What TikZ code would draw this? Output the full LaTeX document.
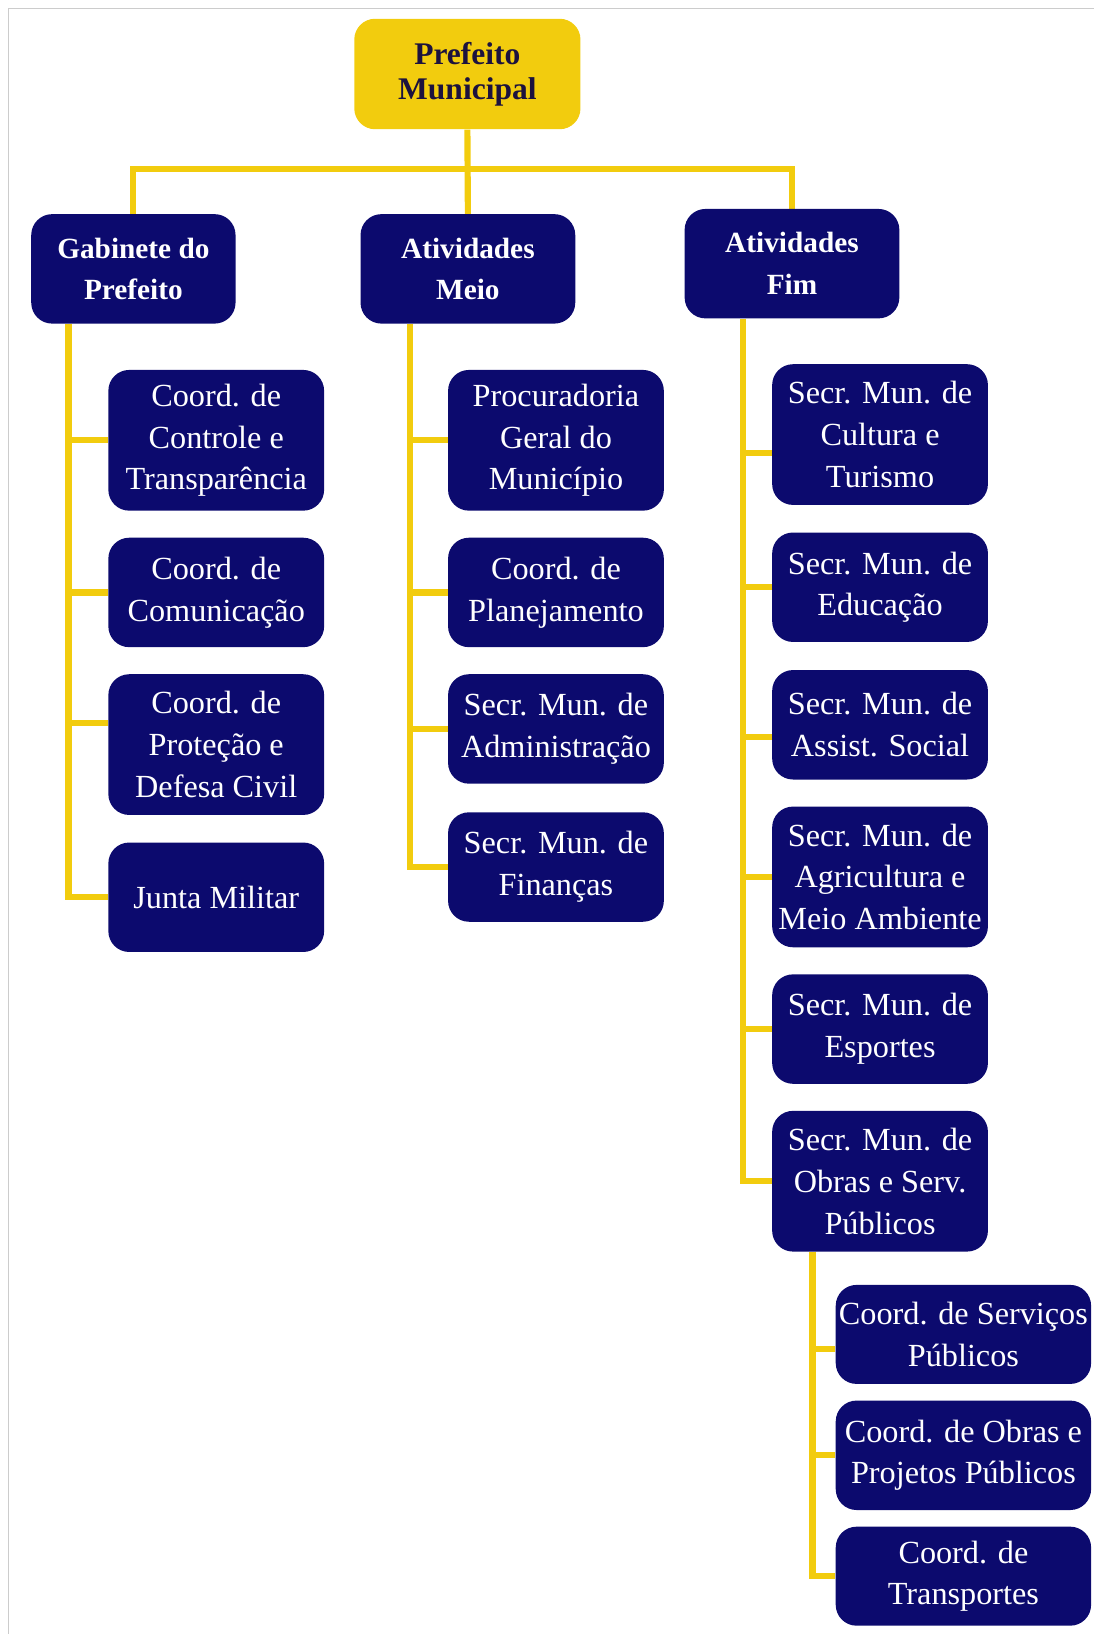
\documentclass[tikz,border=0pt]{standalone}
\usepackage{fontspec}
\setmainfont{Liberation Serif}
\usetikzlibrary{backgrounds}

\definecolor{navybox}{RGB}{12,10,110}
\definecolor{ouro}{RGB}{242,204,14}
\definecolor{inknavy}{RGB}{28,18,62}

\tikzset{
  unit/.style={rounded corners=0.5cm, fill=navybox, text=white, align=center,
    inner sep=0pt, minimum width=5.175cm, font=\fontsize{22}{28.5}\selectfont},
  tall/.style={minimum height=3.375cm},
  short/.style={minimum height=2.625cm},
  head/.style={unit, short, minimum width=5.15cm, font=\bfseries\fontsize{20}{28.5}\selectfont},
  boss/.style={head, fill=ouro, text=inknavy, minimum width=5.425cm, minimum height=2.65cm,
    font=\bfseries\fontsize{21.5}{24}\selectfont},
  subunit/.style={unit, minimum width=6.125cm, minimum height=2.375cm},
  link/.style={draw=ouro, line width=4.2pt},
}

\begin{document}
\begin{tikzpicture}[x=0.025cm, y=-0.025cm]
  \useasboundingbox (0,0) rectangle (1050,1568);
  \draw[gray!40, line width=0.8pt] (8,1568) -- (8,8) -- (1050,8);

  % topo
  \node[boss] (pm) at (448.5,71) {Prefeito\\Municipal};
  \node[head, minimum width=4.9cm] (gab) at (128,258) {Gabinete do\\Prefeito};
  \node[head] (am) at (449,258) {Atividades\\Meio};
  \node[head] (fim) at (760,253) {Atividades\\Fim};
  \coordinate (bus) at (449,162);

  % gabinete do prefeito
  \node[unit, tall] (ctl) at (207.5,422.5) {Coord. de\\Controle e\\Transparência};
  \node[unit, short] (com) at (207.5,568.5) {Coord. de\\Comunicação};
  \node[unit, tall] (pdc) at (207.5,714.5) {Coord. de\\Proteção e\\Defesa Civil};
  \node[unit, short] (jm) at (207.5,861) {Junta Militar};

  % atividades meio
  \node[unit, tall] (pgm) at (533.5,422.5) {Procuradoria\\Geral do\\Município};
  \node[unit, short] (plan) at (533.5,568.5) {Coord. de\\Planejamento};
  \node[unit, short] (adm) at (533.5,699.5) {Secr. Mun. de\\Administração};
  \node[unit, short] (fin) at (533.5,832) {Secr. Mun. de\\Finanças};

  % atividades fim
  \node[unit, tall] (cult) at (844.5,417) {Secr. Mun. de\\Cultura e\\Turismo};
  \node[unit, short] (edu) at (844.5,563.5) {Secr. Mun. de\\Educação};
  \node[unit, short] (ass) at (844.5,695.5) {Secr. Mun. de\\Assist. Social};
  \node[unit, tall] (agr) at (844.5,841.5) {Secr. Mun. de\\Agricultura e\\Meio Ambiente};
  \node[unit, short] (esp) at (844.5,987.5) {Secr. Mun. de\\Esportes};
  \node[unit, tall] (obr) at (844.5,1133.5) {Secr. Mun. de\\Obras e Serv.\\Públicos};

  % obras
  \node[subunit] (ser) at (924.5,1280.5) {Coord. de Serviços\\Públicos};
  \node[subunit, minimum height=2.625cm] (ovp) at (924.5,1396.5) {Coord. de Obras e\\Projetos Públicos};
  \node[subunit] (tra) at (924.5,1512.5) {Coord. de\\Transportes};

  \begin{scope}[on background layer]
    \draw[link] (pm.south) -- (am.north);
    \draw[link] (gab.north) |- (bus) -| (fim.north);

    \draw[link] ([xshift=0.9cm]gab.south west) coordinate (gt) |- (jm.west);
    \foreach \n in {ctl,com}
      \draw[link] (\n.west) -| (gt);
    \draw[link] ([yshift=0.51cm]pdc.west) -| (gt);

    \draw[link] ([xshift=1.2cm]am.south west) coordinate (mt) |- (fin.west);
    \foreach \n in {pgm,plan,adm}
      \draw[link] (\n.west) -| (mt);

    \draw[link] ([xshift=1.4cm]fim.south west) coordinate (ft) |- (obr.west);
    \foreach \n in {edu,agr,esp}
      \draw[link] (\n.west) -| (ft);
    \draw[link] ([yshift=-0.45cm]cult.west) -| (ft);
    \draw[link] ([yshift=-0.29cm]ass.west) -| (ft);

    \draw[link] ([xshift=0.975cm]obr.south west) coordinate (ot) |- (tra.west);
    \draw[link] ([yshift=-0.34cm]ser.west) -| (ot);
    \draw[link] (ovp.west) -| (ot);
  \end{scope}
\end{tikzpicture}
\end{document}
